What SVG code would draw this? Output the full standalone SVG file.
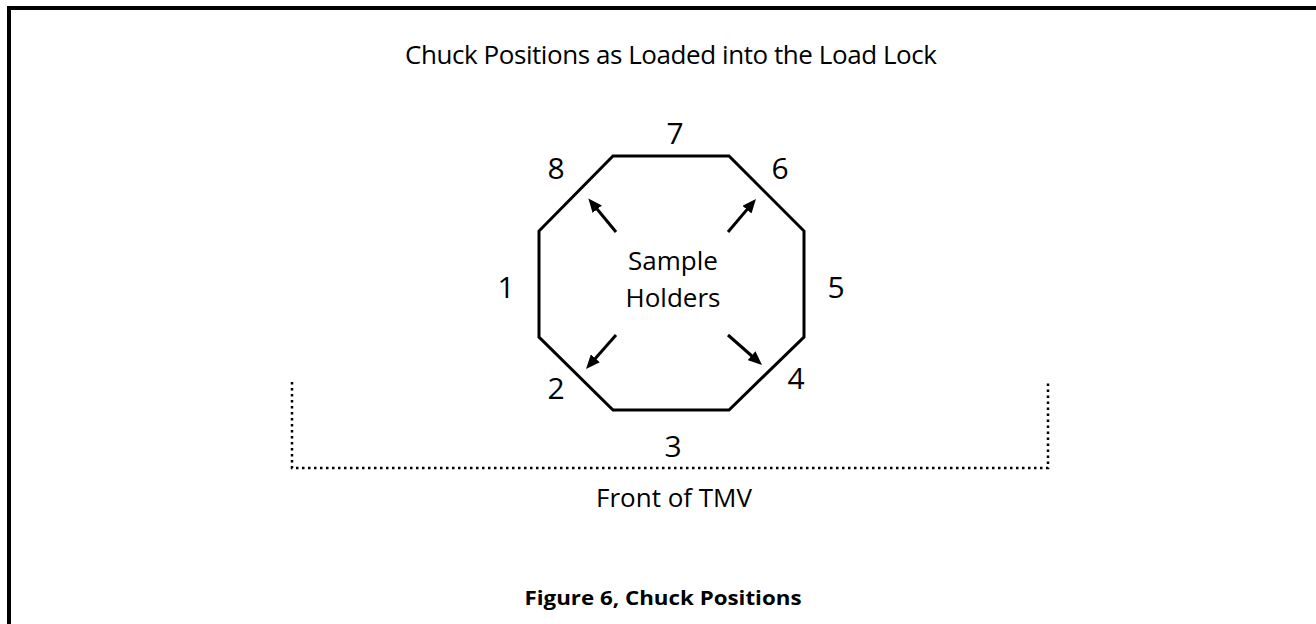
<svg xmlns="http://www.w3.org/2000/svg" width="1316" height="624" viewBox="0 0 1316 624">
<style>
.t{font-family:"Open Sans","Liberation Sans",sans-serif;fill:#000;text-anchor:middle}
.lbl{font-size:26px}
.num{font-size:30px}
.cap{font-size:19px;font-weight:bold}
.arr{stroke:#000;stroke-width:3;fill:none}
</style>
<defs>
<marker id="ah" markerUnits="userSpaceOnUse" markerWidth="14" markerHeight="12" refX="2" refY="6" orient="auto">
<path d="M0,0 L14,6 L0,12 z" fill="#000"/>
</marker>
</defs>
<rect width="1316" height="624" fill="#fff"/>
<path d="M9,624 V8 H1316" fill="none" stroke="#000" stroke-width="4"/>
<text class="t lbl" x="671" y="64" textLength="532">Chuck Positions as Loaded into the Load Lock</text>
<g id="chuck">
<polygon points="613,156 729,156 804,231 804,337 729,410 613,410 539,337 539,231" fill="none" stroke="#000" stroke-width="3"/>
<text class="t lbl" x="673" y="270">Sample</text>
<text class="t lbl" x="673" y="307">Holders</text>
</g>
<g id="labels">
<text class="t num" x="675" y="144">7</text>
<text class="t num" x="556" y="179">8</text>
<text class="t num" x="780" y="179">6</text>
<text class="t num" x="506" y="298">1</text>
<text class="t num" x="836" y="298">5</text>
<text class="t num" x="556" y="399">2</text>
<text class="t num" x="796" y="389">4</text>
<text class="t num" x="673" y="457">3</text>
</g>
<g id="connectors">
<line class="arr" x1="616" y1="232" x2="596" y2="207.7" marker-end="url(#ah)"/>
<line class="arr" x1="728" y1="232" x2="748.2" y2="208.1" marker-end="url(#ah)"/>
<line class="arr" x1="616" y1="335" x2="594" y2="359.9" marker-end="url(#ah)"/>
<line class="arr" x1="728" y1="335" x2="753" y2="357" marker-end="url(#ah)"/>
</g>
<g id="front">
<path d="M292,382 V468 H1048 V382" fill="none" stroke="#000" stroke-width="2.5" stroke-dasharray="2.5 3.5"/>
<text class="t lbl" x="674" y="507">Front of TMV</text>
</g>
<text class="t cap" x="663" y="605" textLength="277" lengthAdjust="spacingAndGlyphs">Figure 6, Chuck Positions</text>
</svg>
